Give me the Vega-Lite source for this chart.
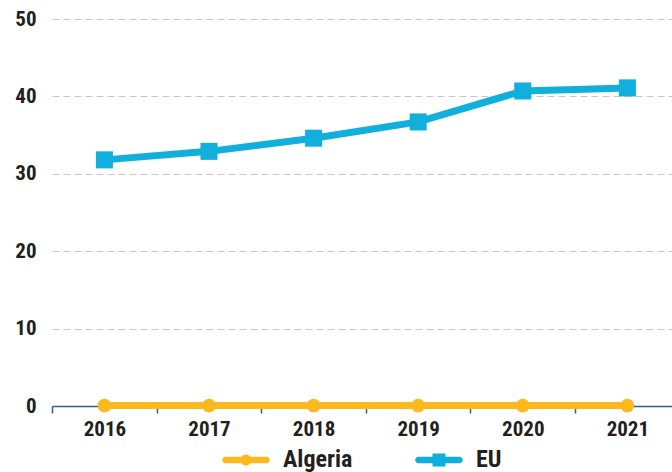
{
  "$schema": "https://vega.github.io/schema/vega-lite/v6.json",
  "autosize": {"type": "none"},
  "width": 620,
  "height": 387,
  "padding": {"left": 52, "top": 19, "right": 0, "bottom": 66},
  "background": "white",
  "config": {
    "view": {"stroke": null},
    "font": "Roboto Condensed, Roboto, sans-serif"
  },
  "data": {
    "values": [
      {"year": "2016", "country": "Algeria", "value": 0.05},
      {"year": "2017", "country": "Algeria", "value": 0.05},
      {"year": "2018", "country": "Algeria", "value": 0.06},
      {"year": "2019", "country": "Algeria", "value": 0.06},
      {"year": "2020", "country": "Algeria", "value": 0.06},
      {"year": "2021", "country": "Algeria", "value": 0.06},
      {"year": "2016", "country": "EU", "value": 31.8},
      {"year": "2017", "country": "EU", "value": 32.9},
      {"year": "2018", "country": "EU", "value": 34.6},
      {"year": "2019", "country": "EU", "value": 36.7},
      {"year": "2020", "country": "EU", "value": 40.7},
      {"year": "2021", "country": "EU", "value": 41.1}
    ]
  },
  "encoding": {
    "x": {
      "field": "year", "type": "ordinal",
      "scale": {"type": "point", "padding": 0.464, "align": 0.54},
      "axis": {
        "title": null, "labelAngle": 0, "grid": false,
        "domainColor": "#2b5f91", "domainWidth": 1.5,
        "tickColor": "#2b5f91", "tickWidth": 1.5, "tickSize": 7,
        "tickOffset": -52.3, "labelOffset": 52.3,
        "labelFontSize": 21, "labelFontWeight": "bold", "labelColor": "#231f20",
        "labelPadding": 5
      }
    },
    "y": {
      "field": "value", "type": "quantitative",
      "scale": {"domain": [0, 50]},
      "axis": {
        "title": null, "values": [0, 10, 20, 30, 40, 50],
        "domain": false, "ticks": false,
        "grid": true, "gridColor": "#c8c8c8", "gridDash": [7, 4], "gridWidth": 1.2,
        "labelFontSize": 21, "labelFontWeight": "bold", "labelColor": "#231f20",
        "labelPadding": 16
      }
    },
    "color": {
      "field": "country", "type": "nominal",
      "scale": {"domain": ["Algeria", "EU"], "range": ["#fbb91e", "#10afdc"]},
      "legend": {
        "orient": "none", "direction": "horizontal", "legendX": 182, "legendY": 429,
        "title": null, "padding": 0,
        "symbolSize": 400, "symbolStrokeWidth": 0,
        "symbolType": "M-2.05,-0.33 L2.05,-0.33 A0.33,0.33 0 0 1 2.05,0.33 L-2.05,0.33 A0.33,0.33 0 0 1 -2.05,-0.33 Z M-0.55,0 A0.55,0.55 0 1 1 0.55,0 A0.55,0.55 0 1 1 -0.55,0 Z",
        "labelFontSize": 24, "labelFontWeight": "bold", "labelColor": "#231f20",
        "labelOffset": 25, "columnPadding": 62,
        "encode": {
          "symbols": {
            "update": {
              "shape": {"signal": "datum.value === 'EU' ? 'M-2.05,-0.33 L2.05,-0.33 A0.33,0.33 0 0 1 2.05,0.33 L-2.05,0.33 A0.33,0.33 0 0 1 -2.05,-0.33 Z M-0.65,-0.65 L0.65,-0.65 L0.65,0.65 L-0.65,0.65 Z' : 'M-2.05,-0.33 L2.05,-0.33 A0.33,0.33 0 0 1 2.05,0.33 L-2.05,0.33 A0.33,0.33 0 0 1 -2.05,-0.33 Z M-0.55,0 A0.55,0.55 0 1 1 0.55,0 A0.55,0.55 0 1 1 -0.55,0 Z'"}
            }
          }
        }
      }
    }
  },
  "layer": [
    {
      "mark": {"type": "line", "strokeWidth": 7, "strokeCap": "butt"}
    },
    {
      "transform": [{"filter": "datum.country === 'Algeria'"}],
      "mark": {"type": "point", "filled": true, "opacity": 1, "shape": "circle", "size": 190}
    },
    {
      "transform": [{"filter": "datum.country === 'EU'"}],
      "mark": {"type": "point", "filled": true, "opacity": 1, "shape": "square", "size": 290}
    }
  ]
}
